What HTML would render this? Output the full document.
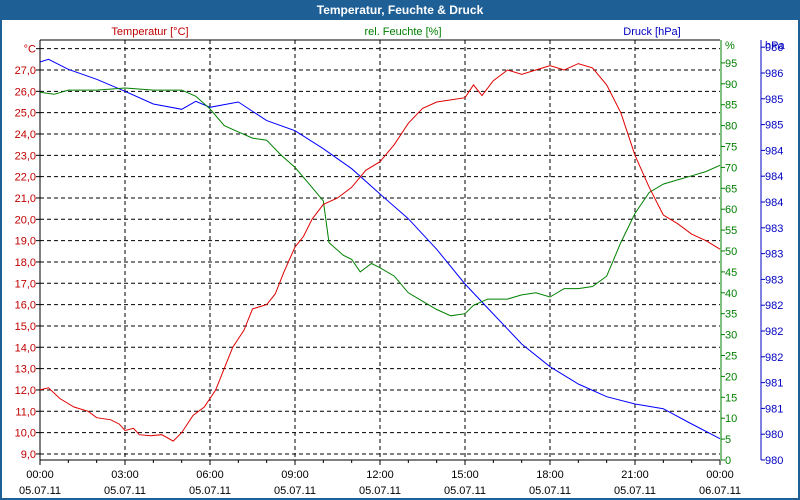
<!DOCTYPE html>
<html><head><meta charset="utf-8"><style>
body{margin:0;width:800px;height:500px;overflow:hidden;background:#fff;font-family:"Liberation Sans",sans-serif}
</style></head><body>
<svg id="c" width="800" height="500" style="display:block">
<rect x="0" y="0" width="800" height="500" fill="#fff" stroke="#1e5f96" stroke-width="4"/>
<rect x="0" y="0" width="800" height="20" fill="#1e5f96"/>
<text x="400" y="14" text-anchor="middle" font-size="12" font-weight="bold" fill="#fff">Temperatur, Feuchte &amp; Druck</text>
<text x="150" y="35" text-anchor="middle" font-size="11" fill="#c00000">Temperatur [°C]</text>
<text x="403" y="35" text-anchor="middle" font-size="11" fill="#008000">rel. Feuchte [%]</text>
<text x="652" y="35" text-anchor="middle" font-size="11" fill="#0000c0">Druck [hPa]</text>
<g id="g"></g>
</svg>
<script>
const hours=[0,0.3,0.7,1.2,1.7,2,2.5,2.8,3,3.3,3.5,3.9,4.3,4.7,5,5.4,5.8,6.2,6.5,6.8,7.2,7.5,8,8.3,8.6,9,9.3,9.6,10,10.5,11,11.5,12,12.5,13,13.5,14,14.5,15,15.3,15.6,16,16.5,17,17.5,18,18.5,19,19.5,20,20.5,21,21.5,22,22.5,23,23.5,24];
const temps=[12.0,12.1,11.6,11.2,11.0,10.7,10.6,10.4,10.1,10.2,9.9,9.85,9.9,9.6,10.0,10.8,11.2,12.0,13.0,14.0,14.8,15.8,16.0,16.5,17.5,18.7,19.2,20.0,20.7,21.0,21.5,22.3,22.7,23.5,24.5,25.2,25.5,25.6,25.7,26.3,25.8,26.5,27.0,26.8,27.0,27.2,27.0,27.3,27.1,26.3,25.0,23.0,21.5,20.2,19.8,19.3,19.0,18.6];
const humHours=[0,0.5,1,2,3,4,5,5.5,6,6.5,7,7.5,8,8.5,9,9.5,10,10.2,10.7,11,11.3,11.7,12,12.5,13,13.5,14,14.5,15,15.3,15.8,16.5,17,17.5,18,18.5,19,19.5,20,20.5,21,21.5,22,22.5,23,23.5,24];
const humidity=[88,87.5,88.5,88.5,89,88.5,88.5,87,84,80,78.5,77,76.5,73,70,66,62,52,49,48,45,47,46,44,40,38,36,34.5,35,37,38.5,38.5,39.5,40,39,41,41,41.5,44,52,59,64,66,67,68,69,70.5];
const presHours=[0,0.3,1,2,3,4,5,5.5,6,7,8,9,10,11,12,13,14,15,16,17,18,19,20,21,22,23,24];
const pressure=[985.97,986.01,985.86,985.71,985.53,985.34,985.26,985.38,985.29,985.37,985.09,984.94,984.67,984.37,983.99,983.62,983.16,982.64,982.19,981.74,981.40,981.14,980.95,980.84,980.77,980.54,980.32];
const tempTicks=[28,27,26,25,24,23,22,21,20,19,18,17,16,15,14,13,12,11,10,9];
const humTicks=[0,5,10,15,20,25,30,35,40,45,50,55,60,65,70,75,80,85,90,95];
const presTicks=["980","980","981","981","982","982","982","983","983","983","984","984","984","985","985","986","986"];
const xTicks=["00:00","03:00","06:00","09:00","12:00","15:00","18:00","21:00","00:00"];
const xDates=["05.07.11","05.07.11","05.07.11","05.07.11","05.07.11","05.07.11","05.07.11","05.07.11","06.07.11"];
const L=40,R=720,T=40,B=460;
const X=h=>L+h*(R-L)/24;
const YT=t=>70+(27-t)*21.33;
const YH=v=>460-v*4.18;
const PSTEP=(460-73)/15;
const YPi=i=>460-i*PSTEP;
const YP=p=>460-(p-980)*66.67;
const NS="http://www.w3.org/2000/svg";
const g=document.getElementById('g');
function mk(tag,a,txt){const e=document.createElementNS(NS,tag);for(const k in a)e.setAttribute(k,a[k]);if(txt!==undefined)e.textContent=txt;g.appendChild(e);return e;}
// grid horizontal
tempTicks.forEach((t,i)=>{
 const y=YT(t);
 const gl=mk('line',{x1:L,x2:R,y1:y,y2:y,stroke:'#000','stroke-dasharray':'4,3','stroke-width':1});
 
 
 mk('line',{x1:L-4,x2:L,y1:y,y2:y,stroke:'#000'});
 const tl=mk('text',{x:L-4,y:y+4,'text-anchor':'end','font-size':11,fill:'#c00000'},t===28?'°C':t.toFixed(1).replace('.',','));
 
 
});
xTicks.forEach((s,i)=>{
 const x=X(i*3);
 if(i>0&&i<8){const vl=mk('line',{x1:x,x2:x,y1:T,y2:B,stroke:'#000','stroke-dasharray':'4,3'});
 
 }
 const a=mk('text',{x:x,y:478,'text-anchor':'middle','font-size':11,fill:'#000'},s);
 
 
 const b=mk('text',{x:x,y:494,'text-anchor':'middle','font-size':11,fill:'#000'},xDates[i]);
 
 
});
for(let h=0;h<=24;h++){mk('line',{x1:X(h),x2:X(h),y1:B,y2:B+(h%3?3:5),stroke:'#000'});}
mk('line',{x1:L,x2:R,y1:T,y2:T,stroke:'#000'});
mk('line',{x1:L,x2:R,y1:B,y2:B,stroke:'#000'});
mk('line',{x1:L,x2:L,y1:T,y2:B,stroke:'#000'});
// humidity axis
mk('line',{x1:721,x2:721,y1:T,y2:B,stroke:'#008000'});
humTicks.forEach(v=>{const y=YH(v);mk('line',{x1:721,x2:725,y1:y,y2:y,stroke:'#008000'});
 const t=mk('text',{x:725,y:y+4,'font-size':11,fill:'#008000'},v);
 
 });
mk('text',{x:725,y:49,'font-size':11,fill:'#008000'},'%');
// pressure axis
mk('line',{x1:761,x2:761,y1:T,y2:B,stroke:'#0000c0'});
presTicks.forEach((s,i)=>{const y=YPi(i);if(y<T)return;mk('line',{x1:761,x2:765,y1:y,y2:y,stroke:'#0000c0'});
 const t=mk('text',{x:765,y:y+4,'font-size':11,fill:'#0000c0'},s);
 
 });
mk('text',{x:765,y:49,'font-size':11,fill:'#0000c0'},'hPa');
function line(xs,ys,fy,col,name){
 const d=xs.map((h,i)=>(i?'L':'M')+X(h).toFixed(1)+','+fy(ys[i]).toFixed(1)).join('');
 const p=mk('path',{d:d,fill:'none',stroke:col,'stroke-width':1});
 
 
}
line(presHours,pressure,YP,'#0000ff','pressure-line');
line(humHours,humidity,YH,'#008000','humidity-line');
line(hours,temps,YT,'#e00000','temperature-line');
</script>
</body></html>
